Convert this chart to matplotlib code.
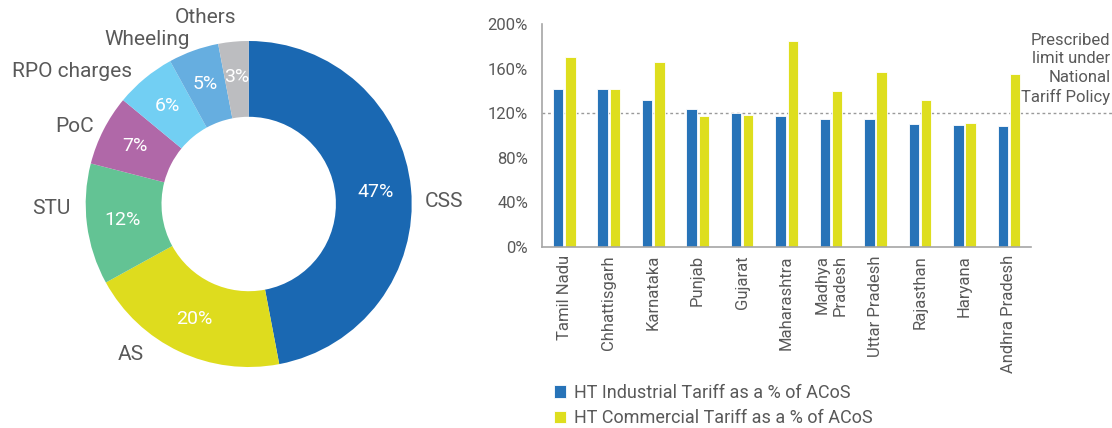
import matplotlib
matplotlib.use("Agg")
import matplotlib.pyplot as plt
import numpy as np

plt.rcParams["font.family"] = ["Roboto", "DejaVu Sans"]

# Donut: share of open-access charges
pie_labels = ["CSS", "AS", "STU", "PoC", "RPO charges", "Wheeling", "Others"]
pie_values = [47, 20, 12, 7, 6, 5, 3]
pie_colors = ["#1a68b2", "#dedc1e", "#63c394", "#b068a8", "#72cff3", "#66aee0", "#bcbdc0"]
# small nudges (in radius units) that keep the outer labels apart
label_nudge = [(-0.015, -0.09), (-0.176, 0.07), (0.0, 0.113), (0.03, -0.025),
               (-0.017, -0.036), (0.01, -0.025), (0.03, 0.05)]

# Bars: HT tariffs as a share of average cost of supply
states = ["Tamil Nadu", "Chhattisgarh", "Karnataka", "Punjab", "Gujarat", "Maharashtra",
          "Madhya\nPradesh", "Uttar Pradesh", "Rajasthan", "Haryana", "Andhra Pradesh"]
industrial = [142, 142, 132, 124, 120, 117, 115, 115, 110, 109, 108]
commercial = [170, 142, 166, 117, 118, 185, 140, 157, 132, 111, 155]
policy_limit = 120
yticks = [0, 40, 80, 120, 160, 200]

TXT = "#595959"
W, H = 1112, 428
fig = plt.figure(figsize=(W / 100, H / 100), dpi=100)

# ---- donut ----
cx, cy, R = 248.7, 204, 163
axp = fig.add_axes([(cx - R) / W, 1 - (cy + R) / H, 2 * R / W, 2 * R / H])
wedges, texts, autotexts = axp.pie(
    pie_values, labels=pie_labels, colors=pie_colors, startangle=90, counterclock=False,
    radius=1, labeldistance=1.1, pctdistance=0.78,
    autopct=lambda p: f"{p:.0f}%",
    wedgeprops=dict(width=0.465, edgecolor="none"),
    textprops=dict(fontsize=15, color=TXT))
for t, (dx, dy) in zip(texts, label_nudge):
    px, py = t.get_position()
    t.set_position((px + dx, py + dy))
for t in autotexts:
    t.set_color("white")
    t.set_fontsize(14)
axp.set_xlim(-1, 1)
axp.set_ylim(-1, 1)
axp.set_aspect("equal")

# ---- grouped bars ----
axb = fig.add_axes([542 / W, 1 - 246.7 / H, (1031 - 542) / W, (246.7 - 24) / H])
x = np.arange(len(states))
bw = 0.235
axb.bar(x - 0.135, industrial, bw, color="#2773b8", edgecolor="white", linewidth=0.6,
        label="HT Industrial Tariff as a % of ACoS", zorder=2)
axb.bar(x + 0.14, commercial, bw, color="#dede1e", edgecolor="white", linewidth=0.6,
        label="HT Commercial Tariff as a % of ACoS", zorder=2)
axb.set_xlim(-0.5, len(states) - 0.5)
axb.set_ylim(0, 200)
axb.set_yticks(yticks)
axb.set_yticklabels([f"{v}%" for v in yticks])
axb.set_xticks(x)
axb.set_xticklabels(states, rotation=90, ha="center", va="top", multialignment="right")
axb.tick_params(axis="both", length=0, labelsize=12, labelcolor=TXT)
axb.tick_params(axis="x", pad=6)
axb.tick_params(axis="y", pad=10)
for s in ("top", "right"):
    axb.spines[s].set_visible(False)
for s in ("left", "bottom"):
    axb.spines[s].set_color("#a6a6a6")
    axb.spines[s].set_linewidth(1.2)

# policy limit line reaching the right edge of the figure
axb.axhline(policy_limit, xmin=0, xmax=(W - 542) / (1031 - 542), color="#9a9a9a",
            linestyle=(0, (2, 2)), linewidth=1, clip_on=False, zorder=1)
axb.annotate("Prescribed\nlimit under\nNational\nTariff Policy",
             xy=(1, policy_limit), xycoords=("figure fraction", "data"),
             xytext=(-1, 6), textcoords="offset points",
             ha="right", va="bottom", multialignment="right",
             fontsize=12, color=TXT, linespacing=1.3)

handles, labels = axb.get_legend_handles_labels()
fig.legend(handles, labels, loc="upper left", bbox_to_anchor=(554 / W, 1 - 384 / H),
           frameon=False, fontsize=13, labelcolor=TXT, handlelength=0.68, handleheight=0.68,
           handletextpad=0.4, labelspacing=0.4, borderaxespad=0, borderpad=0)

fig.savefig("out.png", dpi=100)
